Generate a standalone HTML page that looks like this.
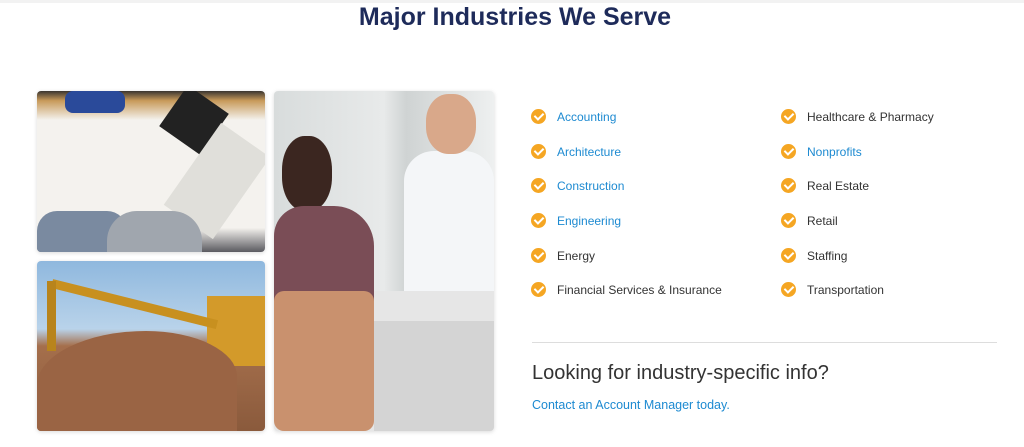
<!DOCTYPE html>
<html><head><meta charset="utf-8"><style>
body{margin:0;width:1024px;height:447px;background:#fff;font-family:"Liberation Sans",sans-serif;position:relative;overflow:hidden}
.abs{position:absolute}
h1{position:absolute;left:0;width:1030px;top:3px;margin:0;text-align:center;font-size:25px;color:#1e2b5a;font-weight:bold}
.img{position:absolute;border-radius:4px;overflow:hidden;box-shadow:0 1px 4px rgba(0,0,0,.15)}
.item{position:absolute;font-size:12px;color:#333;line-height:16px}
.item.b{color:#1d8ad1}
.chk{position:absolute;left:-26px;top:0px;width:15px;height:15px;border-radius:50%;background:#f5a623}
.chk:after{content:"";position:absolute;left:5px;top:2px;width:4px;height:7px;border:solid #fff;border-width:0 2px 2px 0;transform:rotate(45deg)}
</style></head><body>
<div class="abs" style="left:0;top:0;width:1024px;height:3px;background:#f2f2f2"></div>
<h1>Major Industries We Serve</h1>

<div class="img" style="left:37px;top:91px;width:228px;height:161px;background:linear-gradient(#3a3530 0,#c89a5a 6%,#f4f2ee 18%,#f4f2ee 85%,#5a5a60 100%)">
 <div class="abs" style="left:132px;top:4px;width:50px;height:50px;background:#222;transform:rotate(35deg)"></div>
 <div class="abs" style="left:28px;top:0;width:60px;height:22px;background:#2a4a9a;border-radius:8px"></div>
 <div class="abs" style="left:150px;top:40px;width:60px;height:100px;background:#e0dfda;transform:rotate(35deg)"></div>
 <div class="abs" style="left:0;top:120px;width:90px;height:41px;background:#7a8aa0;border-radius:20px 20px 0 0"></div>
 <div class="abs" style="left:70px;top:120px;width:95px;height:41px;background:#a0a6ae;border-radius:30px 30px 0 0"></div>
</div>
<div class="img" style="left:37px;top:261px;width:228px;height:170px;background:linear-gradient(#8fb8de 0,#b9d3ea 40%,#a56f4c 50%,#8a5a3c 100%)">
 <div class="abs" style="left:170px;top:35px;width:58px;height:70px;background:#d39a2a"></div>
 <div class="abs" style="left:15px;top:18px;width:170px;height:9px;background:#c8901f;transform:rotate(14deg);transform-origin:left"></div>
 <div class="abs" style="left:10px;top:20px;width:9px;height:70px;background:#b8841c"></div>
 <div class="abs" style="left:0;top:70px;width:200px;height:100px;background:#9a6444;border-radius:60% 50% 0 0"></div>
</div>
<div class="img" style="left:274px;top:91px;width:220px;height:340px;background:linear-gradient(90deg,#d8dcdc 0,#e8eaea 50%,#cfd3d3 60%,#eef0f0 100%)">
 <div class="abs" style="left:130px;top:60px;width:90px;height:170px;background:#f4f6f8;border-radius:30px 30px 0 0"></div>
 <div class="abs" style="left:152px;top:3px;width:50px;height:60px;background:#d9a88a;border-radius:45%"></div>
 <div class="abs" style="left:0;top:200px;width:220px;height:140px;background:#e6e6e6"></div>
 <div class="abs" style="left:100px;top:230px;width:120px;height:110px;background:#d4d4d4"></div>
 <div class="abs" style="left:8px;top:45px;width:50px;height:75px;background:#3b2620;border-radius:45%"></div>
 <div class="abs" style="left:0;top:115px;width:100px;height:140px;background:#7a4d56;border-radius:30px 40px 0 0"></div>
 <div class="abs" style="left:0;top:200px;width:100px;height:140px;background:#c9916e;border-radius:10px"></div>
</div>

<div class="item b" style="left:557px;top:109px"><span class="chk"></span>Accounting</div>
<div class="item b" style="left:557px;top:144px"><span class="chk"></span>Architecture</div>
<div class="item b" style="left:557px;top:178px"><span class="chk"></span>Construction</div>
<div class="item b" style="left:557px;top:213px"><span class="chk"></span>Engineering</div>
<div class="item" style="left:557px;top:248px"><span class="chk"></span>Energy</div>
<div class="item" style="left:557px;top:282px"><span class="chk"></span>Financial Services &amp; Insurance</div>
<div class="item" style="left:807px;top:109px"><span class="chk"></span>Healthcare &amp; Pharmacy</div>
<div class="item b" style="left:807px;top:144px"><span class="chk"></span>Nonprofits</div>
<div class="item" style="left:807px;top:178px"><span class="chk"></span>Real Estate</div>
<div class="item" style="left:807px;top:213px"><span class="chk"></span>Retail</div>
<div class="item" style="left:807px;top:248px"><span class="chk"></span>Staffing</div>
<div class="item" style="left:807px;top:282px"><span class="chk"></span>Transportation</div>

<div class="abs" style="left:532px;top:342px;width:465px;height:1px;background:#ddd"></div>
<div class="abs" style="left:532px;top:362px;font-size:20px;color:#333">Looking for industry-specific info?</div>
<div class="abs" style="left:532px;top:398px;font-size:12.5px;color:#1d8ad1">Contact an Account Manager today.</div>
</body></html>
